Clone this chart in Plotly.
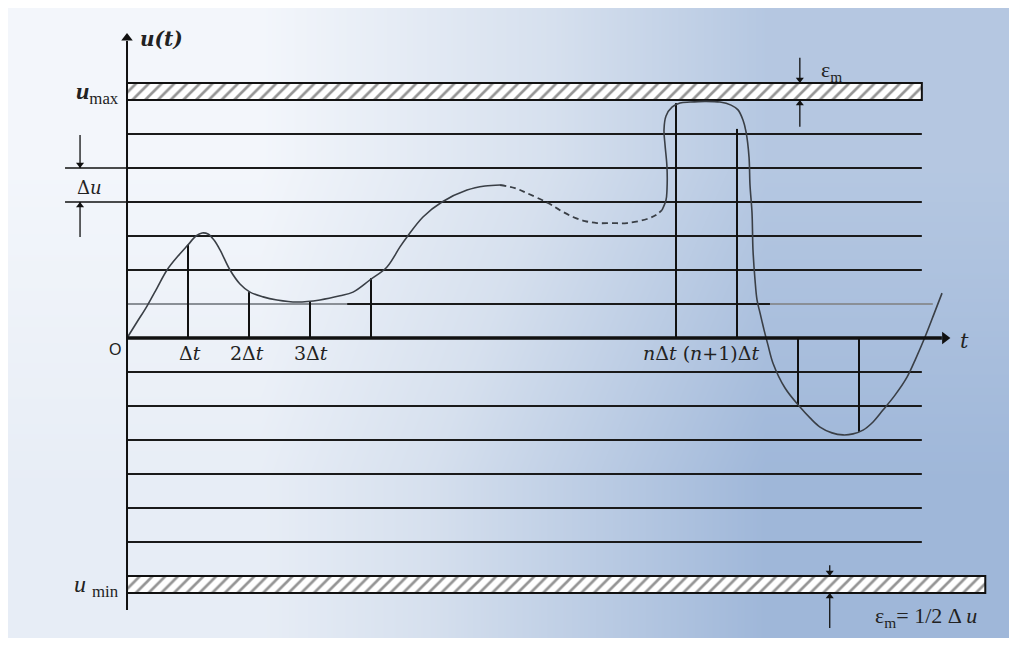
import plotly.graph_objects as go

# ---------------- data (t in units of Δt, u in units of Δu) ----------------
levels_gray_black = [1]
levels_above = [2, 3, 4, 5, 6]
levels_below = [-1, -2, -3, -4, -5, -6]
grid_end = 13.03
level1_gray_end = 13.21
level1_black_span = [3.61, 10.54]

umax_band = [7.0, 7.5]
umin_band = [-7.5, -7.0]
umax_band_end = 13.03
umin_band_end = 14.07

sample_t_up = [1, 2, 3, 4, 9, 10]
sample_u_up = [2.74, 1.35, 1.06, 1.76, 6.91, 6.15]
sample_t_down = [11, 12]
sample_u_down = [-2.03, -2.76]

curve1_t = [0, 0.164, 0.328, 0.492, 0.656, 0.836, 1.0, 1.131, 1.23, 1.328, 1.426,
            1.525, 1.689, 1.852, 2.016, 2.23, 2.459, 2.787, 3.164, 3.492, 3.705,
            3.984, 4.262, 4.475, 4.59, 4.852, 5.164, 5.574, 5.869, 6.115]
curve1_u = [0, 0.47, 0.94, 1.47, 2.0, 2.41, 2.74, 3.0, 3.09, 3.06, 2.88,
            2.59, 2.0, 1.59, 1.35, 1.21, 1.12, 1.06, 1.12, 1.24, 1.35,
            1.71, 2.09, 2.68, 2.97, 3.56, 4.0, 4.35, 4.47, 4.5]
curve2_t = [6.115, 6.36, 6.557, 6.902, 7.098, 7.311, 7.508, 7.705, 7.951, 8.197,
            8.525, 8.672, 8.77]
curve2_u = [4.5, 4.41, 4.26, 3.97, 3.76, 3.56, 3.44, 3.38, 3.38, 3.38,
            3.5, 3.62, 3.76]
curve3_t = [8.77, 8.836, 8.852, 8.852, 8.82, 8.803, 8.836, 8.934, 9.066, 9.23,
            9.475, 9.721, 9.902, 10.016, 10.098, 10.148, 10.197, 10.213, 10.246,
            10.262, 10.295, 10.328, 10.377, 10.443, 10.508, 10.59, 10.787, 11.033,
            11.197, 11.361, 11.557, 11.738, 11.902, 12.066, 12.23, 12.393, 12.59,
            12.787, 12.934, 13.082, 13.23, 13.361]
curve3_u = [3.76, 4.06, 4.35, 5.03, 5.68, 6.12, 6.53, 6.79, 6.91, 6.94,
            6.96, 6.94, 6.85, 6.71, 6.41, 6.06, 5.32, 4.5, 3.68,
            2.59, 1.71, 1.12, 0.74, 0.24, -0.21, -0.74, -1.47, -2.03,
            -2.35, -2.62, -2.79, -2.85, -2.82, -2.71, -2.47, -2.12, -1.68,
            -1.15, -0.59, 0.03, 0.71, 1.32]

yaxis_span = [-8.0, 8.97]
taxis_end = 13.49

# dimension arrows: (t, u_tail, u_head)
dim_arrows_t = [-0.77, -0.77, 11.03, 11.03, 11.52, 11.52]
dim_arrows_tail = [5.97, 2.97, 8.24, 6.21, -6.68, -8.53]
dim_arrows_head = [5.0, 4.0, 7.5, 7.0, -7.0, -7.5]

# ---------------- figure ----------------
# the page body adds an 8px margin, so the figure is 8px smaller and ranges start there
X_RANGE = [-1.951, 14.590]
Y_RANGE = [-9.441, 9.706]
PX_T = 61.0   # pixels per Δt on screen (from ranges)
PX_U = 34.0   # pixels per Δu on screen

fig = go.Figure()

# background gradient
fig.add_trace(go.Heatmap(
    x=[-1.951, 6.32, 14.59], y=[-8.82, 0.44, 9.71],
    z=[[0.18, 1.0], [0.0, 0.78]],
    zsmooth="best", showscale=False, hoverinfo="skip",
    colorscale=[[0, "#f3f6fb"], [0.45, "#d6e0ee"], [1, "#9fb7d9"]],
))

def seg_lines(ys, x0, x1):
    xs, yy = [], []
    for v in ys:
        xs += [x0, x1, None]
        yy += [v, v, None]
    return xs, yy

# quantisation levels
xs, ys = seg_lines(levels_above + levels_below, 0, grid_end)
fig.add_trace(go.Scatter(x=xs, y=ys, mode="lines",
                         line=dict(color="#1a1a1a", width=2), hoverinfo="skip"))
xs, ys = seg_lines(levels_gray_black, 0, level1_gray_end)
fig.add_trace(go.Scatter(x=xs, y=ys, mode="lines",
                         line=dict(color="#8a8f96", width=2), hoverinfo="skip"))
xs, ys = seg_lines(levels_gray_black, level1_black_span[0], level1_black_span[1])
fig.add_trace(go.Scatter(x=xs, y=ys, mode="lines",
                         line=dict(color="#1a1a1a", width=2), hoverinfo="skip"))

# hatched bands
for band, end in [(umax_band, umax_band_end), (umin_band, umin_band_end)]:
    fig.add_trace(go.Scatter(
        x=[0, end, end, 0, 0], y=[band[0], band[0], band[1], band[1], band[0]],
        mode="lines", fill="toself", fillcolor="white",
        fillpattern=dict(shape="/", fgcolor="#2a2a2a", bgcolor="white",
                         size=9, solidity=0.3),
        line=dict(color="#111111", width=2), hoverinfo="skip"))

# sample (vertical) lines
vx, vy = [], []
for t, u in zip(sample_t_up + sample_t_down, sample_u_up + sample_u_down):
    vx += [t, t, None]
    vy += [0, u, None]
fig.add_trace(go.Scatter(x=vx, y=vy, mode="lines",
                         line=dict(color="#111111", width=2), hoverinfo="skip"))

# signal curve
fig.add_trace(go.Scatter(x=curve1_t, y=curve1_u, mode="lines",
                         line=dict(color="#3a3f46", width=1.6, shape="spline"),
                         hoverinfo="skip"))
fig.add_trace(go.Scatter(x=curve2_t, y=curve2_u, mode="lines",
                         line=dict(color="#3a3f46", width=1.8, shape="spline",
                                   dash="6px,4px"),
                         hoverinfo="skip"))
fig.add_trace(go.Scatter(x=curve3_t, y=curve3_u, mode="lines",
                         line=dict(color="#3a3f46", width=1.6, shape="spline"),
                         hoverinfo="skip"))

# axes lines
fig.add_trace(go.Scatter(x=[0, 0], y=[yaxis_span[0], yaxis_span[1] - 8 / PX_U],
                         mode="lines", line=dict(color="#111111", width=2),
                         hoverinfo="skip"))
fig.add_trace(go.Scatter(x=[0, taxis_end - 8 / PX_T], y=[0, 0],
                         mode="lines", line=dict(color="#111111", width=3.5),
                         hoverinfo="skip"))
# axis arrow heads
fig.add_trace(go.Scatter(x=[0], y=[yaxis_span[1] - 5 / PX_U], mode="markers",
                         marker=dict(symbol="triangle-up", size=10, color="#111111"),
                         hoverinfo="skip"))
fig.add_trace(go.Scatter(x=[taxis_end - 5 / PX_T], y=[0], mode="markers",
                         marker=dict(symbol="triangle-right", size=11, color="#111111"),
                         hoverinfo="skip"))

# Δu tick lines
fig.add_trace(go.Scatter(x=[-1.016, 0, None, -1.016, 0], y=[5, 5, None, 4, 4],
                         mode="lines", line=dict(color="#111111", width=1.5),
                         hoverinfo="skip"))

# dimension arrows (shaft + head)
ax_, ay_, hx, hy, hs = [], [], [], [], []
for t, tail, head in zip(dim_arrows_t, dim_arrows_tail, dim_arrows_head):
    ax_ += [t, t, None]
    ay_ += [tail, head, None]
    down = head < tail
    hx.append(t)
    hy.append(head + (3.5 / PX_U if down else -3.5 / PX_U))
    hs.append("triangle-down" if down else "triangle-up")
fig.add_trace(go.Scatter(x=ax_, y=ay_, mode="lines",
                         line=dict(color="#111111", width=1.3), hoverinfo="skip"))
fig.add_trace(go.Scatter(x=hx, y=hy, mode="markers",
                         marker=dict(symbol=hs, size=7, color="#111111"),
                         hoverinfo="skip"))

ann = []
SERIF = "DejaVu Serif, Liberation Serif, serif"
TIMES = "Liberation Serif, Times New Roman, serif"

def label(x, y, text, size=18, xanchor="center", family=SERIF, color="#222222"):
    ann.append(dict(x=x, y=y, xref="x", yref="y", text=text, showarrow=False,
                    xanchor=xanchor, yanchor="middle",
                    font=dict(family=family, size=size, color=color)))

label(0.18, 8.78, "<i><b>u(t)</b></i>", size=20, xanchor="left")
label(-0.1, 7.2, "<i><b>u</b></i><sub>max</sub>", size=24, xanchor="right", family=TIMES)
label(-0.1, -7.28, "<i>u</i> <sub>min</sub>", size=24, xanchor="right", family=TIMES)
label(-0.62, 4.42, "Δ<i>u</i>", size=18)
label(-0.19, -0.35, "O", size=16, family="Liberation Sans, Arial, sans-serif")
label(13.73, -0.1, "<i>t</i>", size=21)
label(1.03, -0.44, "Δ<i>t</i>", size=19)
label(1.96, -0.44, "2Δ<i>t</i>", size=19)
label(3.02, -0.44, "3Δ<i>t</i>", size=19)
label(8.43, -0.44, "<i>n</i>Δ<i>t</i> (<i>n</i>+1)Δ<i>t</i>", size=19, xanchor="left")
label(11.35, 7.85, "ε<sub>m</sub>", size=22, xanchor="left", family=TIMES)
label(12.23, -8.2, "ε<sub>m</sub>= 1/2 Δ <i>u</i>", size=22, xanchor="left", family=TIMES)

fig.update_layout(
    width=1009, height=651,
    margin=dict(l=0, r=0, t=0, b=0),
    paper_bgcolor="white", plot_bgcolor="white",
    showlegend=False,
    xaxis=dict(range=X_RANGE, visible=False, fixedrange=True),
    yaxis=dict(range=Y_RANGE, visible=False, fixedrange=True),
    annotations=ann,
)

fig.write_html("out.html")
